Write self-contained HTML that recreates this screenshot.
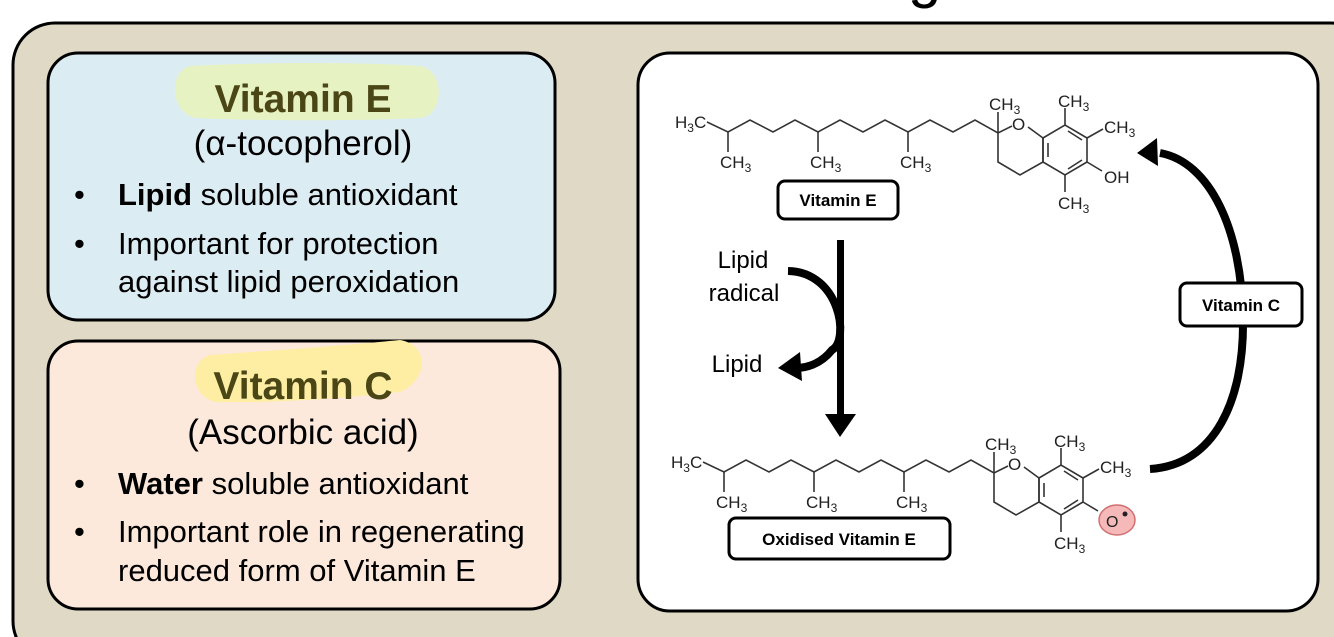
<!DOCTYPE html>
<html><head><meta charset="utf-8"><style>
html,body{margin:0;padding:0;background:#fff;}
svg{display:block;}
text{font-family:"Liberation Sans",Arial,sans-serif;}
</style></head><body>
<svg width="1334" height="637" viewBox="0 0 1334 637" xmlns="http://www.w3.org/2000/svg">
<defs>
<g id="mol" fill="none" stroke="#333" stroke-width="1.6">
  <polyline points="707,122 728,132 750,120 773,132 795,120 818,132 840,120 863,132 885,120 908,132 930,120 953,132 975,120 998,133 1012,126"/>
  <line x1="728" y1="132" x2="728" y2="152"/>
  <line x1="818" y1="132" x2="818" y2="152"/>
  <line x1="908" y1="132" x2="908" y2="152"/>
  <line x1="998" y1="133" x2="998" y2="112"/>
  <polyline points="1028,127 1043,138 1043,162 1020,175 998,162 998,133"/>
  <polygon points="1043,138 1065,125 1087,138 1087,162 1065,175 1043,162"/>
  <line x1="1048" y1="143" x2="1048" y2="157"/>
  <line x1="1068" y1="131" x2="1082" y2="140"/>
  <line x1="1068" y1="169" x2="1082" y2="160"/>
  <line x1="1065" y1="125" x2="1065" y2="108"/>
  <line x1="1087" y1="138" x2="1103" y2="129"/>
  <line x1="1087" y1="162" x2="1102" y2="171"/>
  <line x1="1065" y1="175" x2="1065" y2="192"/>
</g>
<g id="molt" font-size="17" fill="#222">
  <text x="675" y="128">H<tspan font-size="12" dy="4">3</tspan><tspan dy="-4">C</tspan></text>
  <text x="720" y="168">CH<tspan font-size="12" dy="4">3</tspan></text>
  <text x="810" y="168">CH<tspan font-size="12" dy="4">3</tspan></text>
  <text x="900" y="168">CH<tspan font-size="12" dy="4">3</tspan></text>
  <text x="989" y="110">CH<tspan font-size="12" dy="4">3</tspan></text>
  <text x="1012" y="130">O</text>
  <text x="1058" y="107">CH<tspan font-size="12" dy="4">3</tspan></text>
  <text x="1104" y="133">CH<tspan font-size="12" dy="4">3</tspan></text>
  <text x="1058" y="209">CH<tspan font-size="12" dy="4">3</tspan></text>
</g>
</defs>
<text x="908" y="-4" font-size="60" fill="#000">g</text>
<rect x="13" y="23" width="1360" height="640" rx="42" fill="#dfd9c6" stroke="#000" stroke-width="3"/>
<rect x="48" y="53" width="507" height="267" rx="30" fill="#dcecf3" stroke="#000" stroke-width="3"/>
<rect x="48" y="341" width="512" height="268" rx="30" fill="#fce9dc" stroke="#000" stroke-width="3"/>
<rect x="638" y="53" width="680" height="558" rx="32" fill="#fff" stroke="#000" stroke-width="3"/>

<path d="M190,66 C260,62 360,62 420,66 C445,70 445,115 420,118 C360,121 260,121 195,118 C170,112 168,72 190,66Z" fill="#e7f2c2"/>
<path d="M210,355 C280,350 350,345 400,340 C430,345 428,380 400,392 C330,400 260,403 215,402 C190,395 188,362 210,355Z" fill="#fdeea4"/>

<g text-anchor="middle">
<text x="303" y="112" font-size="39" font-weight="bold" fill="#4a4616">Vitamin E</text>
<text x="303" y="155" font-size="35" fill="#000">(α-tocopherol)</text>
<text x="303" y="399" font-size="39" font-weight="bold" fill="#4a4616">Vitamin C</text>
<text x="303" y="444" font-size="35" fill="#000">(Ascorbic acid)</text>
</g>
<g font-size="31" fill="#000">
<text x="74" y="205">•</text><text x="118" y="205"><tspan font-weight="bold">Lipid</tspan> soluble antioxidant</text>
<text x="74" y="254">•</text><text x="118" y="254">Important for protection</text>
<text x="118" y="292">against lipid peroxidation</text>
<text x="74" y="494">•</text><text x="118" y="494"><tspan font-weight="bold">Water</tspan> soluble antioxidant</text>
<text x="74" y="542">•</text><text x="118" y="542">Important role in regenerating</text>
<text x="118" y="581">reduced form of Vitamin E</text>
</g>

<use href="#mol"/><use href="#molt"/>
<text x="1104" y="183" font-size="17" fill="#222">OH</text>
<g transform="translate(-4,340)"><use href="#mol"/><use href="#molt"/></g>
<ellipse cx="1117" cy="520" rx="18" ry="15" fill="#f6b9b9" stroke="#d27070" stroke-width="1.5"/>
<text x="1106" y="527" font-size="16" fill="#222">O</text><circle cx="1125" cy="514" r="2.5" fill="#222"/>

<rect x="778" y="181" width="120" height="38" rx="7" fill="#fff" stroke="#000" stroke-width="3"/>
<text x="838" y="206" font-size="17" font-weight="bold" text-anchor="middle">Vitamin E</text>
<rect x="729" y="518" width="221" height="41" rx="7" fill="#fff" stroke="#000" stroke-width="3"/>
<text x="839" y="545" font-size="17" font-weight="bold" text-anchor="middle">Oxidised Vitamin E</text>

<rect x="837" y="240" width="7" height="176" fill="#000"/>
<polygon points="825,414 856,414 840,437" fill="#000"/>
<path d="M788,271 C840,272 850,340 832,350 C820,365 805,368 795,368" fill="none" stroke="#000" stroke-width="8"/>
<polygon points="778,368 800,352 802,381" fill="#000"/>
<g font-size="24" fill="#000" text-anchor="middle">
<text x="743" y="268">Lipid</text>
<text x="744" y="301">radical</text>
<text x="737" y="372">Lipid</text>
</g>

<path d="M1150,469 C1215,465 1244,400 1243,320 C1242,230 1210,162 1160,153" fill="none" stroke="#000" stroke-width="8"/>
<polygon points="1137,153 1157,138 1158,166" fill="#000"/>
<rect x="1180" y="283" width="122" height="43" rx="7" fill="#fff" stroke="#000" stroke-width="3"/>
<text x="1241" y="311" font-size="17" font-weight="bold" text-anchor="middle">Vitamin C</text>
</svg>
</body></html>
